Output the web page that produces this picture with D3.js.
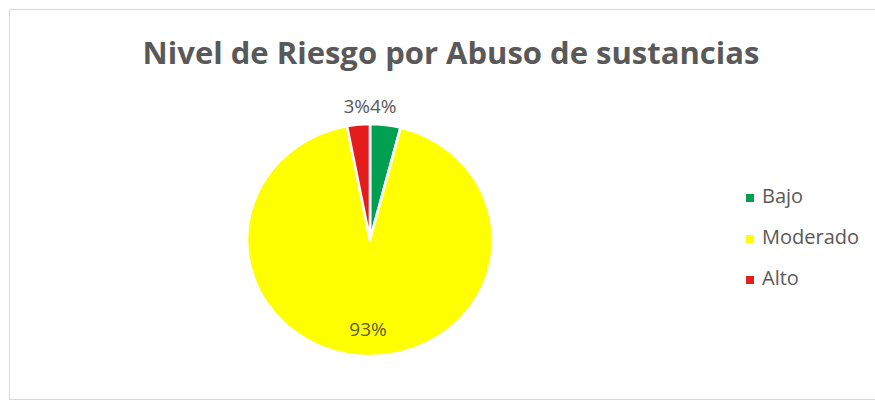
<!DOCTYPE html>
<html><head><meta charset="utf-8">
<script src="https://cdn.jsdelivr.net/npm/d3@7"></script>
<style>body{margin:0;background:#fff}svg{display:block}</style>
</head><body>
<svg id="c" width="875" height="403"></svg>
<script>
const categories = ["Bajo", "Moderado", "Alto"];
const values = [4, 93, 3];
const labels = ["4%", "93%", "3%"];
const colors = ["#00a050", "#ffff00", "#e51c1c"];
const title = "Nivel de Riesgo por Abuso de sustancias";

const svg = d3.select("#c");
const font = "'Open Sans', Lato, sans-serif";
svg.append("rect").attr("x", 9.5).attr("y", 9.5).attr("width", 870).attr("height", 390)
  .attr("fill", "#fff").attr("stroke", "#d9d9d9");

svg.append("text").attr("x", 451).attr("y", 64).attr("text-anchor", "middle")
  .attr("font-family", font).attr("font-weight", 700).attr("font-size", 31)
  .attr("fill", "#595959").text(title);

const data = categories.map((c, i) => ({cat: c, v: values[i], lab: labels[i], col: colors[i]}));
const pie = d3.pie().sort(null).value(d => d.v);
const R = 116;
const arc = d3.arc().innerRadius(0).outerRadius(R);
const g = svg.append("g").attr("transform", "translate(370,240) scale(1.06,1)");
const arcs = pie(data);
g.selectAll("path").data(arcs).join("path")
  .attr("d", arc).attr("fill", d => d.data.col)
  .attr("stroke", "#fff").attr("stroke-width", 2.5).attr("stroke-linejoin", "round");

// labels
const lab = svg.append("g").attr("font-family", font).attr("font-size", 19).attr("fill", "#595959");
const outer = d3.arc().innerRadius(R + 17).outerRadius(R + 17);
const inner = d3.arc().innerRadius(R * 0.78).outerRadius(R * 0.78);
arcs.forEach((a, i) => {
  let x, y, anchor, fill = "#595959";
  if (a.data.v > 50) {
    const c = inner.centroid(a); x = 368; y = 240 + c[1]; anchor = "middle"; fill = "#5e5e30";
  } else {
    const c = outer.centroid(a); y = 240 + c[1];
    x = 370; anchor = c[0] > 0 ? "start" : "end";
  }
  lab.append("text").attr("x", x).attr("y", y).attr("text-anchor", anchor).attr("fill", fill)
    .attr("dominant-baseline", "middle").text(a.data.lab);
});

const leg = svg.append("g").attr("font-family", font).attr("font-size", 20).attr("fill", "#595959");
const ly = d3.scalePoint().domain(categories).range([198, 280]);
categories.forEach((c, i) => {
  leg.append("rect").attr("x", 746).attr("y", ly(c) - 4).attr("width", 8).attr("height", 8).attr("fill", colors[i]);
  leg.append("text").attr("x", 762).attr("y", ly(c)).attr("dominant-baseline", "middle").text(c);
});
</script>
</body></html>
